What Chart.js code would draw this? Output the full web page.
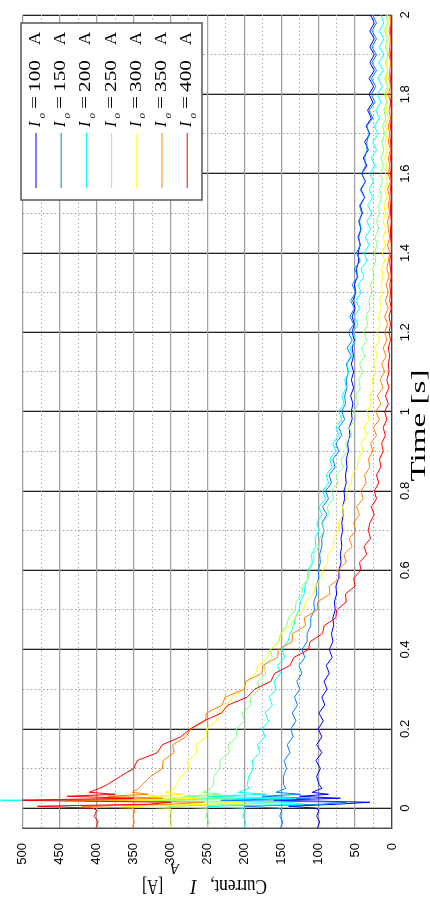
<!DOCTYPE html>
<html>
<head>
<meta charset="utf-8">
<script src="https://cdn.jsdelivr.net/npm/chart.js@4.4.1/dist/chart.umd.min.js"></script>
<style>
html, body { margin: 0; padding: 0; background: #fff; overflow: hidden; width: 430px; height: 921px; }
#wrap { position: absolute; left: 0; top: 0; width: 921px; height: 430px; transform-origin: 0 0; transform: translate(0, 921px) rotate(-90deg); }
</style>
</head>
<body>
<div id="wrap"><canvas id="c" width="921" height="430"></canvas></div>
<script>
// chart is drawn landscape, then the whole page is turned a quarter turn

var times = [-0.05, -0.035, -0.02, -0.005, 0, 0.005, 0.01, 0.015, 0.02, 0.025, 0.03, 0.035, 0.04, 0.05, 0.06,
  0.08, 0.1,
  0.12, 0.14, 0.16, 0.18, 0.2,
  0.22, 0.24, 0.26, 0.28, 0.3,
  0.32, 0.34, 0.36, 0.38, 0.4,
  0.42, 0.44, 0.46, 0.48, 0.5,
  0.52, 0.54, 0.56, 0.58, 0.6,
  0.62, 0.64, 0.66, 0.68, 0.7,
  0.72, 0.74, 0.76, 0.78, 0.8,
  0.82, 0.84, 0.86, 0.88, 0.9,
  0.92, 0.94, 0.96, 0.98, 1,
  1.02, 1.04, 1.06, 1.08, 1.1,
  1.12, 1.14, 1.16, 1.18, 1.2,
  1.22, 1.24, 1.26, 1.28, 1.3,
  1.32, 1.34, 1.36, 1.38, 1.4,
  1.42, 1.44, 1.46, 1.48, 1.5,
  1.52, 1.54, 1.56, 1.58, 1.6,
  1.62, 1.64, 1.66, 1.68, 1.7,
  1.72, 1.74, 1.76, 1.78, 1.8,
  1.82, 1.84, 1.86, 1.88, 1.9,
  1.92, 1.94, 1.96, 1.98, 2];

var i100 = [101, 98, 102, 99, 103, 140, 75, 30, 160, 70, 125, 86, 108, 95, 99,
  102, 97,
  103, 95, 102, 95, 100,
  93, 99, 91, 95, 88,
  92, 85, 89, 81, 85,
  80, 82, 79, 80, 77,
  78, 75, 76, 72, 72,
  69, 70, 68, 69, 67,
  68, 66, 67, 64, 65,
  62, 63, 61, 62, 59,
  60, 57, 58, 54, 55,
  53, 56, 52, 55, 52,
  55, 52, 54, 51, 54,
  51, 54, 50, 53, 49,
  51, 47, 48, 45, 46,
  43, 46, 42, 45, 40,
  43, 37, 42, 36, 41,
  34, 39, 32, 37, 30,
  35, 28, 33, 26, 31,
  25, 31, 24, 30, 24,
  30, 24, 30, 24, 29];

var i150 = [151, 148, 152, 149, 153, 200, 95, 62, 232, 110, 176, 124, 157, 144, 147,
  147, 143,
  146, 138, 142, 134, 137,
  130, 135, 128, 132, 125,
  129, 122, 126, 118, 122,
  115, 115, 110, 110, 105,
  106, 102, 103, 99, 100,
  97, 98, 95, 95, 92,
  95, 88, 94, 86, 90,
  82, 85, 77, 80, 72,
  76, 68, 72, 64, 68,
  63, 64, 61, 62, 59,
  62, 55, 61, 54, 59,
  52, 57, 51, 56, 49,
  54, 46, 51, 43, 48,
  43, 45, 42, 44, 41,
  44, 37, 43, 36, 41,
  36, 37, 34, 34, 31,
  34, 26, 31, 23, 28,
  22, 28, 21, 27, 21,
  27, 21, 27, 21, 26];

var i200 = [201, 198, 202, 199, 203, 250, 120, 140, 530, 130, 250, 170, 208, 194, 196,
  194, 188,
  189, 179, 182, 172, 176,
  167, 172, 162, 166, 157,
  160, 151, 155, 145, 149,
  141, 138, 133, 131, 126,
  124, 119, 118, 114, 114,
  108, 109, 103, 104, 99,
  102, 95, 99, 90, 94,
  86, 89, 81, 84, 76,
  80, 72, 76, 68, 72,
  65, 68, 62, 64, 58,
  61, 53, 57, 49, 53,
  46, 51, 44, 49, 42,
  46, 38, 42, 34, 38,
  31, 36, 29, 34, 27,
  33, 26, 31, 25, 30,
  23, 28, 21, 26, 19,
  24, 17, 22, 15, 20,
  13, 19, 12, 18, 11,
  17, 11, 17, 11, 15];

var i250 = [251, 248, 252, 249, 253, 305, 200, 150, 335, 212, 282, 232, 256, 245, 242,
  241, 233,
  233, 220, 222, 210, 211,
  200, 203, 191, 192, 180,
  182, 171, 173, 162, 165,
  154, 151, 143, 140, 131,
  130, 122, 121, 113, 112,
  106, 106, 99, 98, 92,
  94, 85, 88, 79, 82,
  73, 76, 66, 69, 60,
  63, 54, 58, 49, 52,
  46, 49, 43, 45, 40,
  44, 37, 41, 34, 38,
  33, 35, 30, 31, 27,
  29, 24, 26, 22, 24,
  20, 23, 18, 21, 17,
  18, 14, 17, 13, 15,
  12, 15, 11, 14, 10,
  13, 8, 11, 7, 10,
  6, 10, 6, 9, 5,
  9, 6, 10, 6, 8];

var i300 = [301, 298, 302, 299, 303, 365, 250, 205, 385, 262, 330, 282, 307, 295, 292,
  286, 275,
  277, 264, 266, 251, 251,
  238, 235, 223, 216, 201,
  197, 185, 181, 169, 165,
  153, 150, 137, 132, 120,
  117, 106, 104, 96, 94,
  87, 87, 79, 79, 72,
  73, 66, 67, 61, 61,
  55, 54, 47, 46, 39,
  42, 34, 38, 31, 34,
  28, 30, 25, 27, 22,
  25, 20, 23, 17, 20,
  16, 19, 14, 17, 13,
  15, 12, 14, 10, 13,
  9, 12, 8, 12, 9,
  11, 7, 10, 6, 9,
  7, 10, 6, 9, 6,
  9, 5, 8, 6, 8,
  5, 8, 6, 8, 5,
  7, 5, 8, 5, 6];

var i350 = [352, 349, 351, 348, 352, 420, 300, 255, 440, 310, 385, 330, 352, 343, 338,
  327, 311,
  310, 295, 297, 279, 272,
  253, 251, 230, 226, 200,
  198, 176, 175, 155, 154,
  135, 135, 117, 119, 101,
  101, 84, 85, 70, 73,
  62, 65, 54, 58, 49,
  52, 44, 48, 39, 42,
  35, 37, 30, 32, 26,
  29, 21, 25, 17, 22,
  15, 20, 12, 16, 10,
  14, 8, 12, 7, 10,
  6, 10, 5, 9, 5,
  8, 4, 7, 5, 3,
  6, 3, 5, 6, 3,
  5, 3, 6, 2, 5,
  3, 5, 2, 5, 3,
  5, 2, 4, 2, 5,
  2, 4, 3, 2, 4,
  3, 2, 4, 2, 3];

var i400 = [401, 398, 403, 400, 405, 480, 330, 300, 515, 350, 440, 375, 410, 396, 385,
  368, 350,
  345, 318, 311, 286, 273,
  255, 231, 222, 196, 186,
  164, 159, 138, 133, 113,
  111, 94, 92, 76, 75,
  62, 63, 50, 52, 42,
  44, 34, 38, 29, 32,
  30, 24, 28, 21, 24,
  18, 21, 15, 17, 12,
  14, 9, 12, 7, 10,
  5, 9, 4, 7, 4,
  5, 3, 5, 2, 4,
  2, 4, 1, 3, 2,
  3, 1, 2, 3, 1,
  1, 2, 2, 1, 2,
  2, 1, 2, 1, 2,
  1, 2, 1, 2, 1,
  2, 1, 1, 2, 1,
  1, 2, 1, 1, 2,
  1, 1, 2, 1, 1];

var initialCurrents = [100, 150, 200, 250, 300, 350, 400];
var seriesValues = [i100, i150, i200, i250, i300, i350, i400];
var seriesColors = ['#0000ff', '#0080ff', '#00ffff', '#80ff80', '#ffff00', '#ff8000', '#ff0000'];

var timeTicks = [0, 0.2, 0.4, 0.6, 0.8, 1, 1.2, 1.4, 1.6, 1.8, 2];
var timeMinor = [0.1, 0.3, 0.5, 0.7, 0.9, 1.1, 1.3, 1.5, 1.7, 1.9];
var currentTicks = [0, 50, 100, 150, 200, 250, 300, 350, 400, 450, 500];
var currentMinor = [25, 75, 125, 175, 225, 275, 325, 375, 425, 475];

var timeTitle = 'Time [s]';

var datasets = initialCurrents.map(function (c, i) {
  return {
    label: 'Io=' + c + ' A',
    data: times.map(function (t, k) { return { x: t, y: seriesValues[i][k] }; }),
    borderColor: seriesColors[i],
    backgroundColor: seriesColors[i],
    borderWidth: 1,
    pointRadius: 0,
    tension: 0,
    fill: false,
    order: 7 - i,
    clip: i === 2 ? { left: 0, top: false, right: 0, bottom: 0 } : 0.5
  };
});

function setTicks(list) {
  return function (scale) { scale.ticks = list.map(function (v) { return { value: v }; }); };
}

function piece(ctx, txt, x, y, font, sx) {
  ctx.save();
  ctx.font = font;
  ctx.translate(x, y);
  ctx.scale(sx, 1);
  ctx.fillText(txt, 0, 0);
  ctx.restore();
}

var decor = {
  id: 'decor',
  afterDraw: function (chart) {
    var ctx = chart.ctx;
    var area = chart.chartArea;
    ctx.save();
    ctx.fillStyle = '#000';
    ctx.textBaseline = 'alphabetic';
    ctx.textAlign = 'left';

    // x title
    ctx.font = '22px "Liberation Serif"';
    var tw = ctx.measureText(timeTitle).width;
    var cx = (area.left + area.right) / 2 - 4;
    piece(ctx, timeTitle, cx - 56, 425, '22px "Liberation Serif"', 112 / tw);

    // y title, read upwards
    ctx.save();
    ctx.translate(41, 267);
    ctx.rotate(-Math.PI / 2);
    piece(ctx, 'Current,', 0, 0, '20px "Liberation Serif"', 0.86);
    piece(ctx, 'I', 70, 0, 'italic 20px "Liberation Serif"', 1);
    piece(ctx, 'A', 88, 16, 'italic 14px "Liberation Serif"', 1);
    piece(ctx, '[A]', 104, 0, '20px "Liberation Serif"', 0.75);
    ctx.restore();

    // legend
    ctx.fillStyle = '#fff';
    ctx.fillRect(721, 21, 177, 181);
    ctx.strokeStyle = '#555';
    ctx.lineWidth = 1.5;
    ctx.strokeRect(721, 21, 177, 181);
    initialCurrents.forEach(function (c, i) {
      var ym = 36 + 25.2 * i;
      ctx.strokeStyle = seriesColors[i];
      ctx.lineWidth = 1;
      ctx.beginPath();
      ctx.moveTo(733, ym);
      ctx.lineTo(788, ym);
      ctx.stroke();
      ctx.fillStyle = '#000';
      var by = ym + 4;
      piece(ctx, 'I', 794, by, 'italic 16px "Liberation Serif"', 1);
      piece(ctx, 'o', 802.5, by + 4.5, 'italic 11px "Liberation Serif"', 1);
      piece(ctx, '=', 812, by, '16px "Liberation Serif"', 1.45);
      piece(ctx, String(c), 829, by, '16px "Liberation Serif"', 1.33);
      piece(ctx, 'A', 876, by, '16px "Liberation Serif"', 1.13);
    });
    ctx.restore();
  }
};

new Chart(document.getElementById('c'), {
  type: 'line',
  data: { datasets: datasets },
  plugins: [decor],
  options: {
    responsive: false,
    animation: false,
    events: [],
    layout: { padding: { left: 0, right: 15, top: 16, bottom: 0 } },
    plugins: { legend: { display: false }, tooltip: { enabled: false }, title: { display: false } },
    scales: {
      x: {
        type: 'linear', min: -0.05, max: 2,
        afterBuildTicks: setTicks(timeTicks),
        afterFit: function (s) { s.height = 38; },
        ticks: { autoSkip: false, maxRotation: 0, padding: 6, color: '#000',
          font: { family: 'Liberation Sans', size: 13 },
          callback: function (v) { return String(v); } },
        grid: { color: '#222', lineWidth: 1.3, drawTicks: false },
        border: { display: true, color: '#444', width: 1.3 }
      },
      xm: {
        type: 'linear', position: 'bottom', min: -0.05, max: 2,
        afterBuildTicks: setTicks(timeMinor),
        afterFit: function (s) { s.height = 0; },
        ticks: { display: false },
        grid: { color: '#999', lineWidth: 1, drawTicks: false },
        border: { display: false, dash: [1.5, 2.5] }
      },
      y: {
        type: 'linear', min: 0, max: 500,
        afterBuildTicks: setTicks(currentTicks),
        afterFit: function (s) { s.width = 93; },
        ticks: { autoSkip: false, padding: 15, color: '#000',
          font: { family: 'Liberation Sans', size: 13 },
          callback: function (v) { return String(v); } },
        grid: { color: '#a0a0a0', lineWidth: 1.3, drawTicks: false },
        border: { display: true, color: '#555', width: 1.5 }
      },
      ym: {
        type: 'linear', position: 'left', min: 0, max: 500,
        afterBuildTicks: setTicks(currentMinor),
        afterFit: function (s) { s.width = 0; },
        ticks: { display: false },
        grid: { color: '#aaa', lineWidth: 1, drawTicks: false },
        border: { display: false, dash: [1.5, 2.5] }
      }
    }
  }
});
</script>
</body>
</html>
